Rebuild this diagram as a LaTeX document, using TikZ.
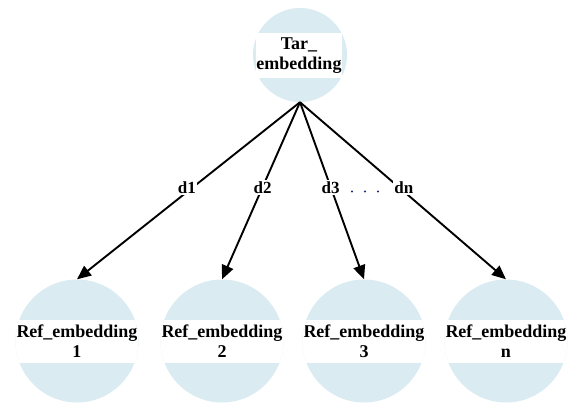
\documentclass[tikz,border=0pt]{standalone}
\usepackage{fontspec}
\setmainfont{Liberation Serif}
\usetikzlibrary{arrows.meta}
\definecolor{bubble}{RGB}{218,235,242}
\definecolor{dotblue}{RGB}{30,40,110}
\begin{document}
\begin{tikzpicture}[x=1pt,y=-1pt,
  font=\bfseries\fontsize{18}{20}\selectfont,
  bubble/.style={circle,fill=bubble,draw=none,inner sep=0pt},
  band/.style={fill=white,inner sep=0pt,align=center},
  link/.style={draw=black,line width=1.9pt,-{Triangle[length=14pt,width=12pt]}},
  dlabel/.style={fill=white,inner sep=1.5pt,font=\bfseries\fontsize{17}{18}\selectfont}]
  \useasboundingbox (0,0) rectangle (571,407);

  % target node
  \node[bubble,minimum size=94pt] (t) at (300,55) {};
  \node[band,minimum width=86pt,minimum height=45pt] (tl) at (299,55.5) {Tar\_\\embedding};

  % reference nodes
  \foreach \n/\x/\lab in {1/77/1,2/222/2,3/364/3,4/506/n}{
    \node[bubble,minimum size=123pt] (r\n) at (\x,341) {};
    \begin{scope}
      \clip (\x,341) circle (61.5pt);
      \node[band,minimum width=124pt,minimum height=43pt] (rl\n) at (\x,341.5) {Ref\_embedding\\\lab};
    \end{scope}
  }

  % distance edges
  \draw[link] (t.south) -- node[dlabel,pos=0.48,xshift=-6pt] {d1} (r1.north);
  \draw[link] (t.south) -- node[dlabel,pos=0.48] {d2} (r2.north);
  \draw[link] (t.south) -- node[dlabel,pos=0.48] {d3} (r3.north);
  \draw[link] (t.south) -- node[dlabel,pos=0.48,xshift=5pt] {dn} (r4.north);

  % ellipsis between d3 and dn
  \foreach \x in {352,365,378}{
    \fill[dotblue] (\x,191.5) circle (1.1pt);
  }
\end{tikzpicture}
\end{document}
